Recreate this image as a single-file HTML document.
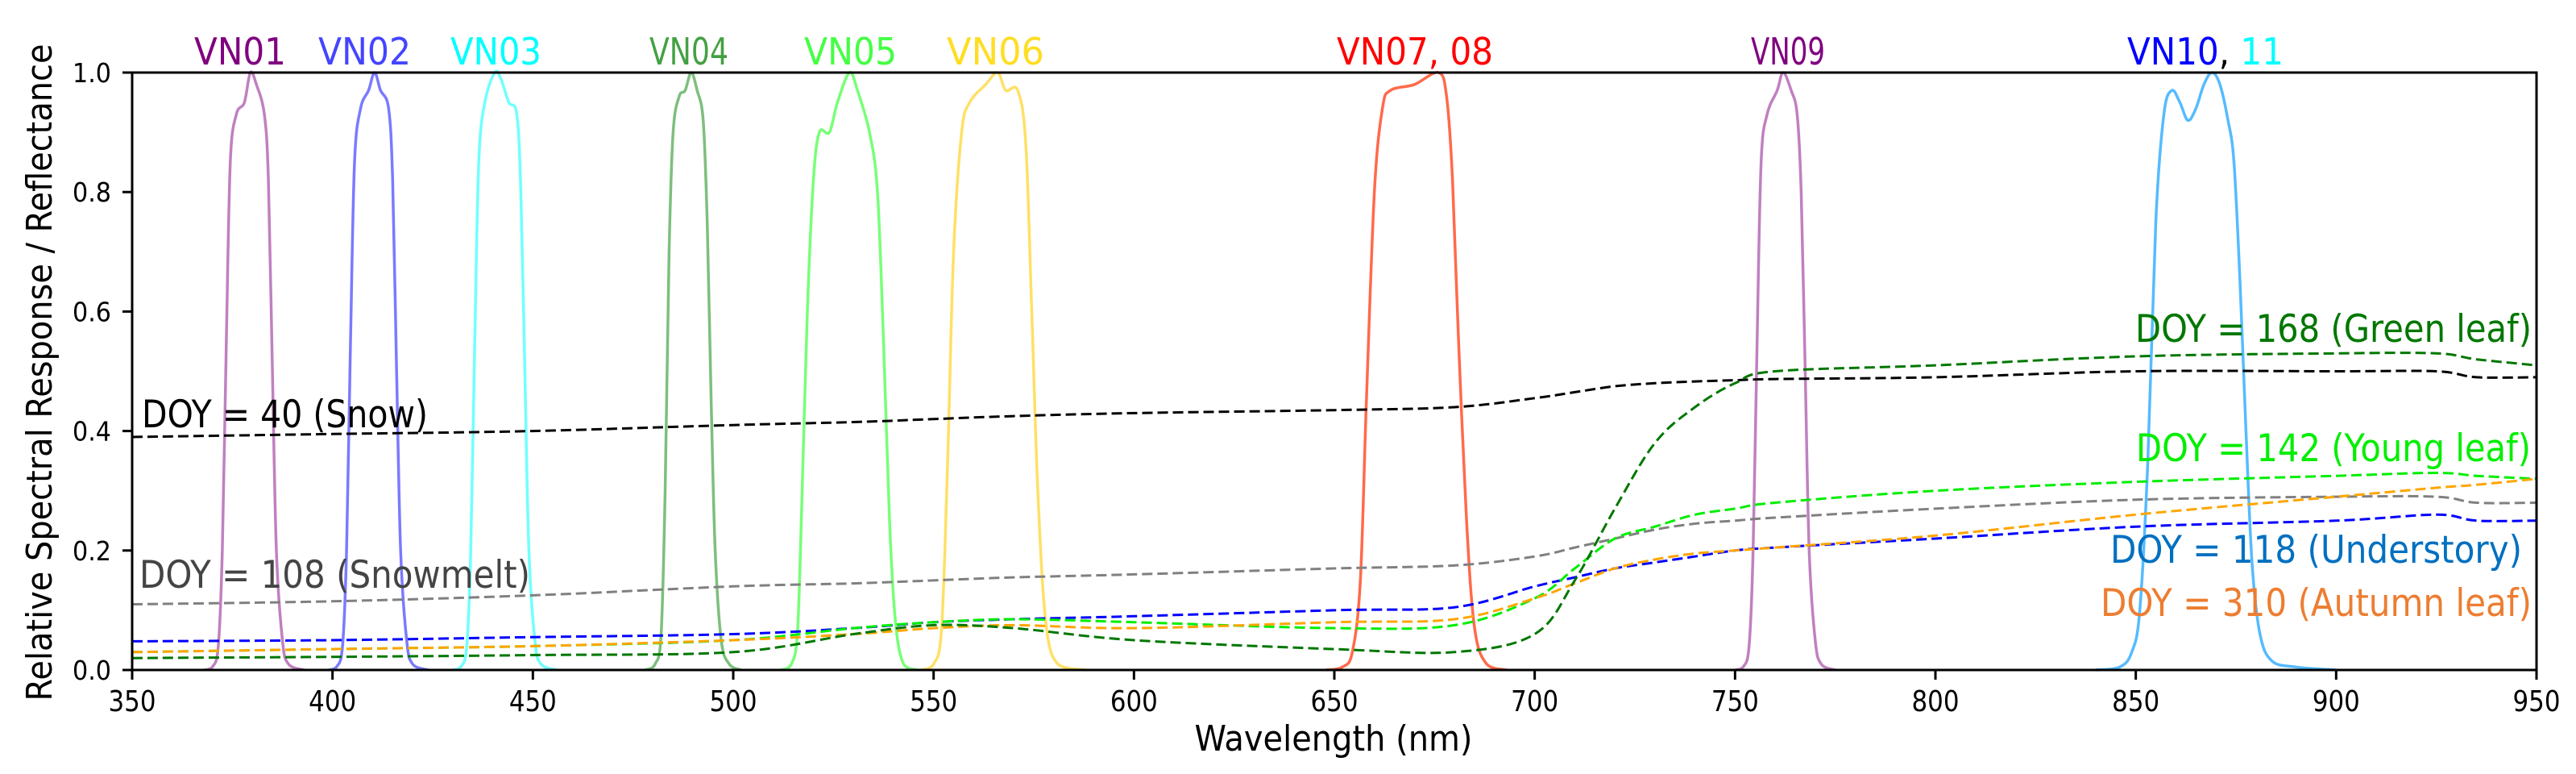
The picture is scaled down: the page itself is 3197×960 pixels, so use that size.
<!DOCTYPE html>
<html><head><meta charset="utf-8"><style>
html,body{margin:0;padding:0;background:#fff;}
svg{display:block;font-family:"DejaVu Sans","Liberation Sans",sans-serif;}
</style></head><body>
<svg id="chart" width="3197" height="960" viewBox="0 0 3197 960" xmlns="http://www.w3.org/2000/svg">
<g id="bands"></g>
<g id="refl"></g>
<rect x="164" y="90" width="2984" height="741" fill="none" stroke="#000" stroke-width="3"/>
<g id="ticks"></g>
<g id="labels"></g>
<text x="1655" y="931" font-size="44" text-anchor="middle" textLength="345" lengthAdjust="spacingAndGlyphs">Wavelength (nm)</text>
<text transform="translate(64,462) rotate(-90)" font-size="44" text-anchor="middle" textLength="815" lengthAdjust="spacingAndGlyphs">Relative Spectral Response / Reflectance</text>
</svg>
<script>
const xTicks=[350,400,450,500,550,600,650,700,750,800,850,900,950];
const yTicks=[0.0,0.2,0.4,0.6,0.8,1.0];
const yTickLabels=["0.0","0.2","0.4","0.6","0.8","1.0"];
const bandNames=["VN01","VN02","VN03","VN04","VN05","VN06","VN07","VN09","VN10"];
const bandColors=["#c080c0","#7a7aff","#70ffff","#7dbf7d","#77ff77","#ffe066","#ff6a4a","#c080c0","#55bbff"];
const bandVN01=[[368,0],[370,0.005],[371.5,0.04],[372.5,0.2],[373.5,0.55],[374.5,0.85],[376,0.93],[378,0.95],[379.5,1.0],[381,0.98],[383,0.93],[384,0.82],[385,0.5],[386,0.2],[387.5,0.05],[389,0.01],[393,0]];
const bandVN02=[[399,0],[401,0.005],[402.5,0.04],[403.5,0.2],[404.5,0.55],[405.5,0.85],[407,0.94],[409,0.97],[410.5,1.0],[412,0.97],[414,0.94],[415,0.82],[416,0.5],[417,0.2],[418.5,0.05],[420,0.01],[424,0]];
const bandVN03=[[430,0],[432,0.005],[433.5,0.04],[434.5,0.2],[435.5,0.55],[436.5,0.85],[438,0.95],[440.5,1.0],[442,0.99],[444,0.95],[446,0.93],[447,0.8],[448,0.5],[449,0.2],[450.5,0.05],[452,0.01],[456,0]];
const bandVN04=[[478,0],[480.5,0.01],[482,0.06],[483,0.3],[484,0.7],[485,0.9],[486.5,0.96],[488,0.97],[489.5,1.0],[491,0.97],[492.5,0.92],[493.5,0.75],[494.5,0.45],[495.5,0.2],[497,0.05],[499,0.01],[502,0]];
const bandVN05=[[512,0],[514.5,0.01],[516,0.06],[517,0.25],[518.5,0.6],[520,0.82],[521.5,0.9],[524,0.9],[526,0.95],[529,1.0],[531,0.97],[534,0.9],[536,0.8],[537.5,0.55],[539,0.25],[540.5,0.08],[542.5,0.01],[546,0]];
const bandVN06=[[547,0],[550,0.01],[552,0.07],[553.5,0.35],[555,0.7],[557,0.9],[559,0.95],[563,0.98],[566,1.0],[568,0.97],[571,0.97],[573,0.88],[574.5,0.6],[576,0.3],[578,0.08],[581,0.01],[588,0]];
const bandVN07=[[648,0],[652,0.005],[654.5,0.03],[656.5,0.15],[658,0.45],[660,0.8],[662,0.94],[664,0.97],[670,0.98],[676,1.0],[678,0.96],[679.5,0.82],[681,0.55],[683,0.25],[685,0.07],[688,0.01],[693,0]];
const bandVN09=[[750,0],[752,0.005],[753.5,0.04],[754.5,0.2],[755.5,0.55],[756.5,0.85],[758,0.93],[760.5,0.97],[762,1.0],[764,0.97],[765.5,0.93],[766.5,0.8],[767.5,0.5],[768.5,0.2],[770,0.05],[771.5,0.01],[775,0]];
const bandVN10=[[840,0],[846,0.005],[849,0.03],[851,0.1],[853,0.35],[855,0.75],[857,0.93],[859,0.97],[861,0.95],[863,0.92],[865,0.94],[867,0.98],[869,1.0],[871,0.98],[873,0.92],[874.5,0.85],[876,0.65],[877.5,0.4],[879,0.18],[881,0.06],[884,0.015],[890,0.005],[900,0]];
const bands=[bandVN01,bandVN02,bandVN03,bandVN04,bandVN05,bandVN06,bandVN07,bandVN09,bandVN10];
const reflWl=[350,400,450,500,530,550,570,600,650,680,700,710,720,730,740,750,760,800,850,900,925,935,950];
const reflSnow=[0.39,0.395,0.40,0.41,0.415,0.42,0.425,0.43,0.435,0.44,0.455,0.465,0.475,0.48,0.483,0.485,0.487,0.49,0.50,0.50,0.50,0.49,0.49];
const reflSnowmelt=[0.11,0.115,0.125,0.14,0.145,0.15,0.155,0.16,0.17,0.175,0.19,0.205,0.22,0.235,0.245,0.25,0.255,0.27,0.285,0.29,0.29,0.28,0.28];
const reflUnderstory=[0.048,0.05,0.055,0.06,0.07,0.08,0.085,0.09,0.1,0.105,0.14,0.155,0.17,0.18,0.19,0.2,0.205,0.22,0.24,0.25,0.26,0.25,0.25];
const reflYoung=[0.03,0.035,0.04,0.05,0.07,0.08,0.085,0.08,0.07,0.075,0.12,0.17,0.22,0.24,0.26,0.27,0.28,0.30,0.315,0.325,0.33,0.325,0.32];
const reflGreen=[0.02,0.022,0.025,0.03,0.06,0.075,0.07,0.05,0.035,0.03,0.06,0.15,0.27,0.38,0.44,0.48,0.50,0.51,0.525,0.53,0.53,0.52,0.51];
const reflAutumn=[0.03,0.035,0.04,0.05,0.06,0.07,0.075,0.07,0.08,0.085,0.12,0.145,0.17,0.185,0.195,0.2,0.205,0.225,0.26,0.29,0.305,0.31,0.32];
const reflSeries=[reflSnow,reflSnowmelt,reflUnderstory,reflYoung,reflAutumn,reflGreen];
const reflNames=["snow","snowmelt","understory","young-leaf","autumn-leaf","green-leaf"];
const reflColors=["#000000","#808080","#0000ff","#00ee00","#ffa500","#007700"];

const X0=164,X1=3148,Y0=831,Y1=90;
function sx(v){return X0+(v-350)/(950-350)*(X1-X0);}
function sy(v){return Y0-v*(Y0-Y1);}
const NS="http://www.w3.org/2000/svg";
function mk(t,a){const e=document.createElementNS(NS,t);for(const k in a)e.setAttribute(k,a[k]);return e;}
function smooth(pts){
  let d='M'+pts[0][0].toFixed(1)+','+pts[0][1].toFixed(1);
  for(let i=0;i<pts.length-1;i++){
    const p0=pts[Math.max(0,i-1)],p1=pts[i],p2=pts[i+1],p3=pts[Math.min(pts.length-1,i+2)];
    const c1x=p1[0]+(p2[0]-p0[0])/6,c1y=p1[1]+(p2[1]-p0[1])/6;
    const c2x=p2[0]-(p3[0]-p1[0])/6,c2y=p2[1]-(p3[1]-p1[1])/6;
    d+=' C'+c1x.toFixed(1)+','+Math.min(Y0,c1y).toFixed(1)+' '+c2x.toFixed(1)+','+Math.min(Y0,c2y).toFixed(1)+' '+p2[0].toFixed(1)+','+p2[1].toFixed(1);
  }
  return d;
}

const gb=document.getElementById('bands');
bands.forEach((b,i)=>{
  const d=smooth(b.map(p=>[sx(p[0]),sy(p[1])]));
  const p=mk('path',{d:d,fill:'none',stroke:bandColors[i],'stroke-width':3.5,'stroke-linejoin':'round'});
  
  
  gb.appendChild(p);
});
const gr=document.getElementById('refl');
reflSeries.forEach((s,i)=>{
  const d=smooth(s.map((v,j)=>[sx(reflWl[j]),sy(v)]));
  const p=mk('path',{d:d,fill:'none',stroke:reflColors[i],'stroke-width':3,'stroke-dasharray':'13 6'});
  
  
  gr.appendChild(p);
});
const gt=document.getElementById('ticks');
xTicks.forEach(v=>{
  const l=mk('line',{x1:sx(v),x2:sx(v),y1:Y0,y2:Y0+12,stroke:'#000','stroke-width':3});
  
  
  gt.appendChild(l);
  const t=mk('text',{x:sx(v),y:882,'font-size':36,'text-anchor':'middle',textLength:59,lengthAdjust:'spacingAndGlyphs'});
  t.textContent=String(v);
  
  
  gt.appendChild(t);
});
yTicks.forEach((v,i)=>{
  const l=mk('line',{x1:X0-12,x2:X0,y1:sy(v),y2:sy(v),stroke:'#000','stroke-width':3});
  
  
  gt.appendChild(l);
  const t=mk('text',{x:138,y:sy(v)+12,'font-size':33,'text-anchor':'end',textLength:48,lengthAdjust:'spacingAndGlyphs'});
  t.textContent=yTickLabels[i];
  
  
  gt.appendChild(t);
});
</script>
<script>
(function(){
const gl=document.getElementById('labels');
const NS="http://www.w3.org/2000/svg";
const items=[
 ["band-label-vn01",241,80,114,46,"start",[["VN01","#800080"]]],
 ["band-label-vn02",395,80,115,46,"start",[["VN02","#4444ff"]]],
 ["band-label-vn03",559,80,113,46,"start",[["VN03","#00ffff"]]],
 ["band-label-vn04",806,80,98,46,"start",[["VN04","#44a044"]]],
 ["band-label-vn05",998,80,115,46,"start",[["VN05","#44ff44"]]],
 ["band-label-vn06",1175,80,121,46,"start",[["VN06","#ffdd22"]]],
 ["band-label-vn07-08",1659,80,194,46,"start",[["VN07, 08","#ff0000"]]],
 ["band-label-vn09",2173,80,92,46,"start",[["VN09","#800080"]]],
 ["band-label-vn10-11",2640,80,194,46,"start",[["VN10","#0000ff"],[", ","#000000"],["11","#00ffff"]]],
 ["label-doy-40-snow",176,530,355,47,"start",[["DOY = 40 (Snow)","#000000"]]],
 ["label-doy-108-snowmelt",173,729,485,47,"start",[["DOY = 108 (Snowmelt)","#444444"]]],
 ["label-doy-168-green-leaf",2650,424,492,47,"start",[["DOY = 168 (Green leaf)","#007700"]]],
 ["label-doy-142-young-leaf",2651,572,490,47,"start",[["DOY = 142 (Young leaf)","#00ee00"]]],
 ["label-doy-118-understory",2619,698,511,47,"start",[["DOY = 118 (Understory)","#0070c0"]]],
 ["label-doy-310-autumn-leaf",2607,764,535,47,"start",[["DOY = 310 (Autumn leaf)","#ed7d31"]]]
];
items.forEach(it=>{
  const t=document.createElementNS(NS,'text');
  t.setAttribute('x',it[1]);t.setAttribute('y',it[2]);
  t.setAttribute('font-size',it[4]);
  t.setAttribute('textLength',it[3]);
  t.setAttribute('lengthAdjust','spacingAndGlyphs');
  it[6].forEach(s=>{const sp=document.createElementNS(NS,'tspan');sp.setAttribute('fill',s[1]);sp.textContent=s[0];t.appendChild(sp);});
  
  
  gl.appendChild(t);
});
})();
</script>
</body></html>
